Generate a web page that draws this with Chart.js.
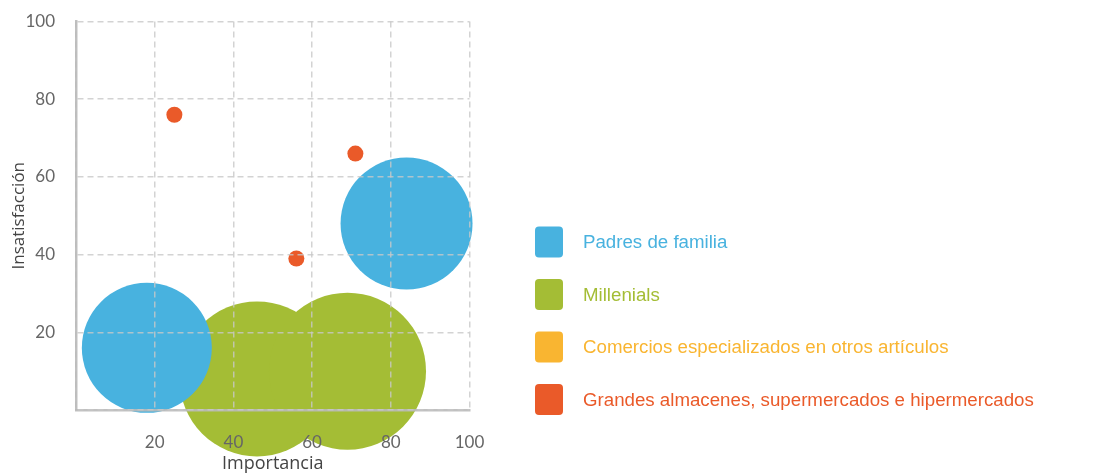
<!DOCTYPE html>
<html>
<head>
<meta charset="utf-8">
<script src="https://cdn.jsdelivr.net/npm/chart.js@4.4.1/dist/chart.umd.min.js"></script>
<style>
html,body{margin:0;padding:0;background:#fff;}
#wrap{width:1100px;height:475px;position:relative;}
</style>
</head>
<body>
<div id="wrap"><canvas id="c" width="1100" height="475"></canvas></div>
<script>
// ---- data ----
const seriesNames = ["Padres de familia", "Millenials", "Comercios especializados en otros artículos", "Grandes almacenes, supermercados e hipermercados"];
const seriesColors = ["#48b2df", "#a4bd35", "#f9b531", "#ea5a29"];
const padresX = [18, 84];
const padresY = [16, 48];
const padresR = [65, 66];
const millenialsX = [46, 69];
const millenialsY = [8, 10];
const millenialsR = [77.5, 78.5];
const comerciosX = [29, 40, 67];
const comerciosY = [13, 14, 16];
const comerciosR = [7.5, 7.5, 7.5];
const grandesX = [25, 71, 56, 84];
const grandesY = [76, 66, 39, 15];
const grandesR = [8, 8, 8, 8];
const xTicks = [20, 40, 60, 80, 100];
const yTicks = [20, 40, 60, 80, 100];
const xTitle = "Importancia";
const yTitle = "Insatisfacción";

function pts(xs, ys, rs){ return xs.map((x,i)=>({x:x, y:ys[i], r:rs[i]})); }

const datasets = [
  {label: seriesNames[0], data: pts(padresX, padresY, padresR)},
  {label: seriesNames[1], data: pts(millenialsX, millenialsY, millenialsR)},
  {label: seriesNames[2], data: pts(comerciosX, comerciosY, comerciosR)},
  {label: seriesNames[3], data: pts(grandesX, grandesY, grandesR)}
].map((d,i)=>Object.assign(d, {
  backgroundColor: seriesColors[i],
  borderWidth: 0,
  hoverBorderWidth: 0,
  clip: false
}));

const legendPlugin = {
  id: 'sideLegend',
  afterDraw(chart){
    const ctx = chart.ctx;
    ctx.save();
    chart.data.datasets.forEach((ds,i)=>{
      const cy = 242 + i*52.5;
      const x = 535, w = 28, h = 31;
      ctx.fillStyle = ds.backgroundColor;
      ctx.beginPath();
      if (ctx.roundRect) ctx.roundRect(x, cy - h/2, w, h, 4); else ctx.rect(x, cy-h/2, w, h);
      ctx.fill();
      ctx.font = '18.7px "Liberation Sans", Arial, sans-serif';
      ctx.textBaseline = 'middle';
      ctx.textAlign = 'left';
      ctx.fillText(ds.label, 583, cy + 1);
    });
    ctx.restore();
  }
};

const gridStyle = {
  color: 'rgba(200,200,200,0.8)',
  lineWidth: 1.5,
  drawTicks: false,
  z: 1
};
const tickFont = {family: 'Lato, "Open Sans", sans-serif', size: 17};
const titleFont = {family: '"Open Sans", Lato, sans-serif', size: 18};

function zeroPad(s){ s.paddingTop = 0; s.paddingBottom = 0; s.paddingLeft = 0; s.paddingRight = 0; }

new Chart(document.getElementById('c'), {
  type: 'bubble',
  data: {datasets},
  options: {
    responsive: false,
    animation: false,
    events: [],
    layout: {autoPadding: false, padding: {left: 0, top: 21.5, right: 630.5, bottom: 0}},
    plugins: {legend: {display: false}, tooltip: {enabled: false}},
    scales: {
      x: {
        type: 'linear', min: 0, max: 100,
        afterBuildTicks: s => { s.ticks = [0].concat(xTicks).map(v=>({value:v})); },
        afterFit: s => { s.height = 65; zeroPad(s); },
        grid: Object.assign({}, gridStyle),
        border: {display: true, color: 'rgba(185,185,185,0.9)', width: 2.5, dash: [6, 4], z: 1},
        ticks: {
          z: 1,
          padding: 22,
          color: '#666',
          font: tickFont,
          callback: v => v === 0 ? '' : String(v)
        },
        title: {display: true, text: xTitle, color: '#444', padding: {top: 1, bottom: 0}, font: titleFont}
      },
      y: {
        type: 'linear', min: 0, max: 100,
        afterBuildTicks: s => { s.ticks = [0].concat(yTicks).map(v=>({value:v})); },
        afterFit: s => { s.width = 76; zeroPad(s); },
        grid: Object.assign({}, gridStyle),
        border: {display: true, color: 'rgba(185,185,185,0.9)', width: 2.5, dash: [6, 4], z: 1},
        ticks: {
          z: 1,
          padding: 21,
          color: '#666',
          font: tickFont,
          callback: v => v === 0 ? '' : String(v)
        },
        title: {display: true, text: yTitle, color: '#444', padding: {top: 9, bottom: 0}, font: {family: '"Open Sans", Lato, sans-serif', size: 17}}
      }
    }
  },
  plugins: [legendPlugin]
});
</script>
</body>
</html>
